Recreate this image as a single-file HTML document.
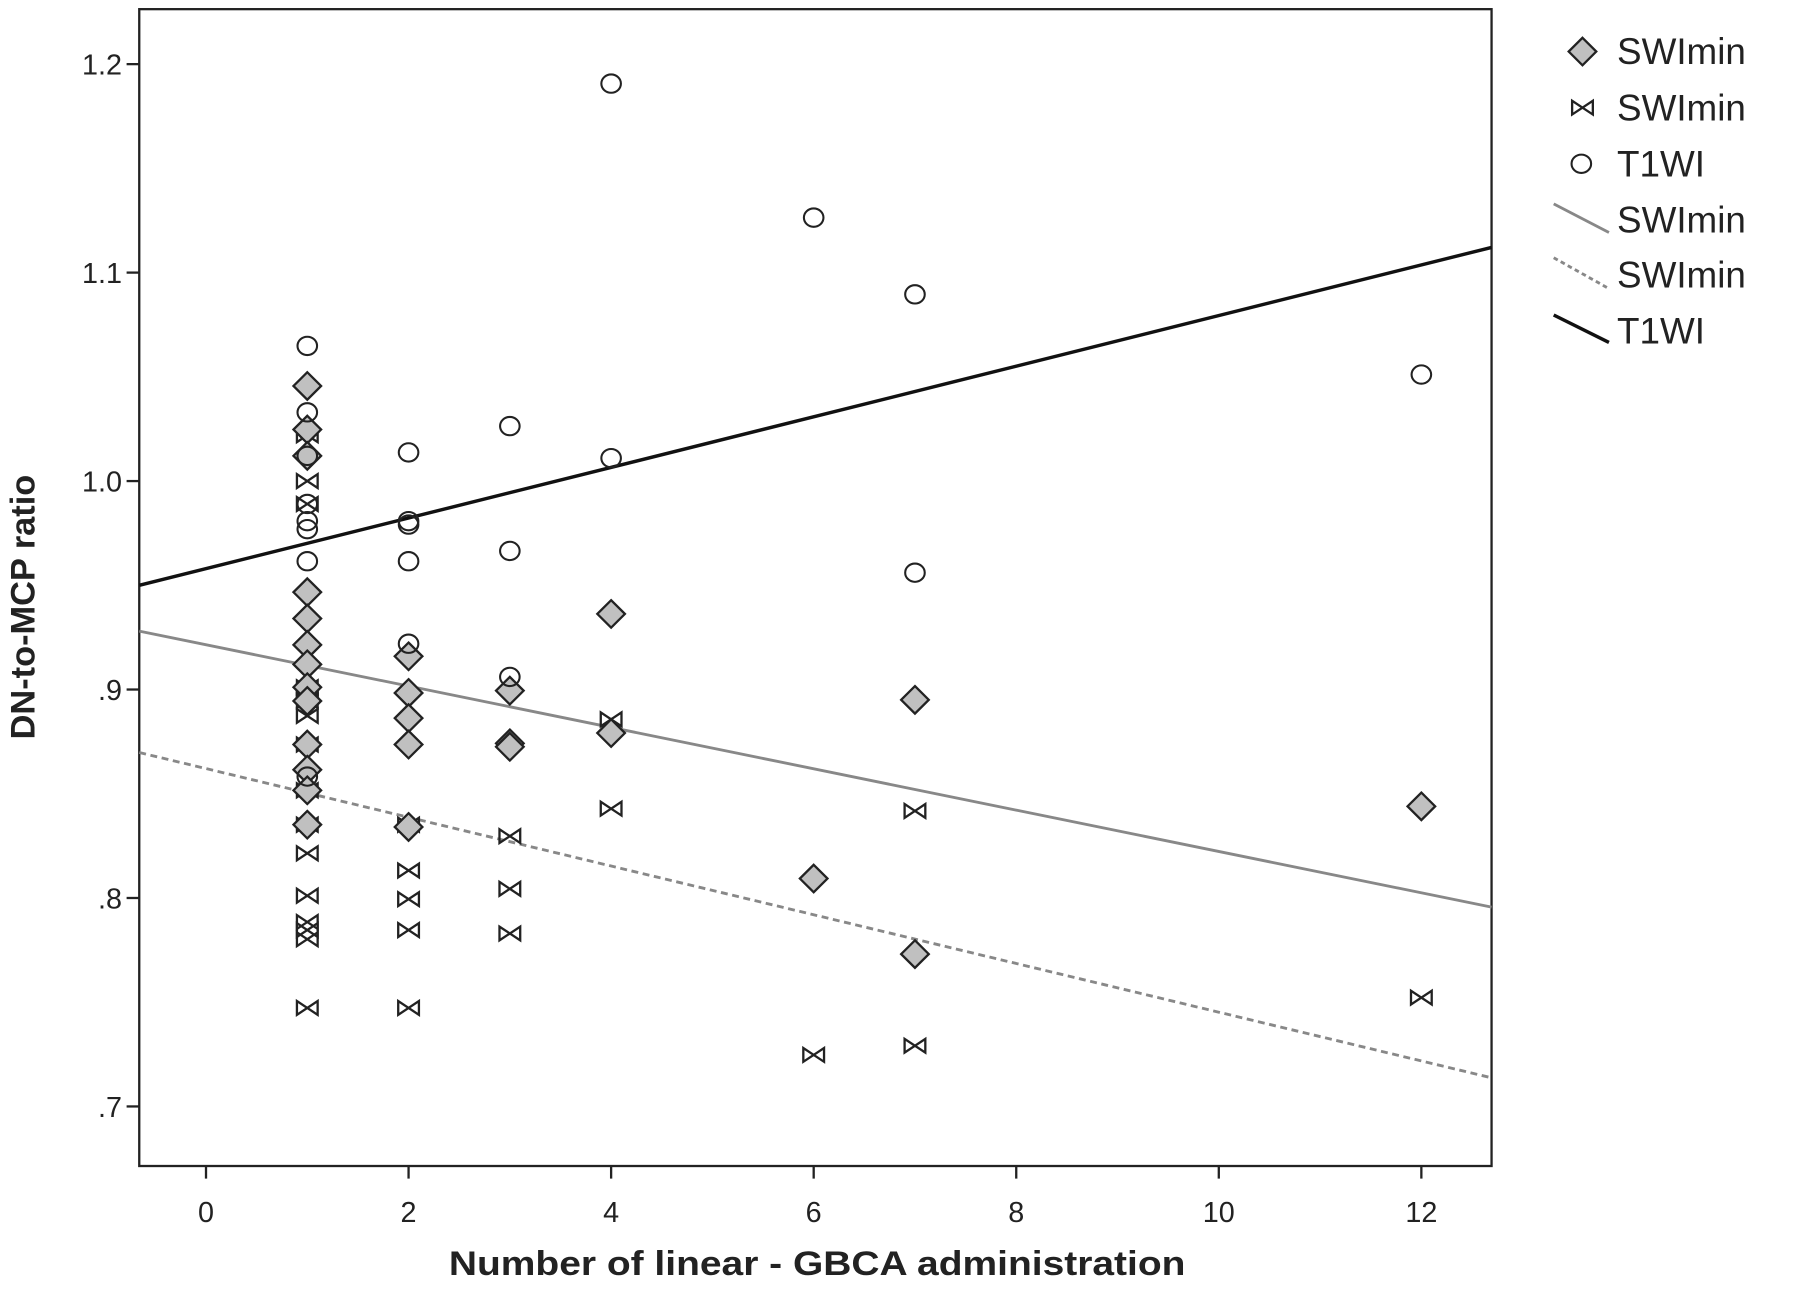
<!DOCTYPE html>
<html><head><meta charset="utf-8"><style>html,body{margin:0;padding:0;background:#fff}svg{display:block}</style></head>
<body>
<svg width="1800" height="1292" viewBox="0 0 1564 1128" preserveAspectRatio="none" xmlns="http://www.w3.org/2000/svg" font-family="Liberation Sans, sans-serif">
<defs>
<g id="d"><path d="M0,-12 L12,0 L0,12 L-12,0 Z" fill="#c0c0c0" stroke="#222" stroke-width="2"/></g>
<g id="b"><path d="M-9,-6 L-9,6 L9,-6 L9,6 Z" fill="none" stroke="#222" stroke-width="2"/></g>
<g id="c"><ellipse rx="8.5" ry="8" fill="none" stroke="#222" stroke-width="1.8"/></g>
</defs>
<rect x="121" y="8" width="1175" height="1010" fill="none" stroke="#222" stroke-width="2"/>
<g stroke="#222" stroke-width="2">
<line x1="110" y1="56" x2="121" y2="56"/><line x1="110" y1="238" x2="121" y2="238"/><line x1="110" y1="420" x2="121" y2="420"/><line x1="110" y1="602" x2="121" y2="602"/><line x1="110" y1="784" x2="121" y2="784"/><line x1="110" y1="966" x2="121" y2="966"/>
<line x1="179" y1="1018" x2="179" y2="1029"/><line x1="355" y1="1018" x2="355" y2="1029"/><line x1="531" y1="1018" x2="531" y2="1029"/><line x1="707" y1="1018" x2="707" y2="1029"/><line x1="883" y1="1018" x2="883" y2="1029"/><line x1="1059" y1="1018" x2="1059" y2="1029"/><line x1="1235" y1="1018" x2="1235" y2="1029"/>
</g>
<g font-size="25" fill="#222" text-anchor="end">
<text x="106" y="65">1.2</text><text x="106" y="247">1.1</text><text x="106" y="429">1.0</text><text x="106" y="611">.9</text><text x="106" y="793">.8</text><text x="106" y="975">.7</text>
</g>
<g font-size="25" fill="#222" text-anchor="middle">
<text x="179" y="1067">0</text><text x="355" y="1067">2</text><text x="531" y="1067">4</text><text x="707" y="1067">6</text><text x="883" y="1067">8</text><text x="1059" y="1067">10</text><text x="1235" y="1067">12</text>
</g>
<text x="710" y="1113" font-size="30" font-weight="bold" fill="#222" text-anchor="middle" textLength="640" lengthAdjust="spacingAndGlyphs">Number of linear - GBCA administration</text>
<text transform="translate(30,530) rotate(-90)" font-size="30" font-weight="bold" fill="#222" text-anchor="middle">DN-to-MCP ratio</text>

<line x1="121" y1="511" x2="1296" y2="216" stroke="#111" stroke-width="3"/>
<line x1="121" y1="551" x2="1296" y2="792" stroke="#888" stroke-width="2.5"/>
<line x1="121" y1="657" x2="1296" y2="941" stroke="#888" stroke-width="2.5" stroke-dasharray="6,4"/>

<g>
<use href="#b" x="267" y="380"/><use href="#b" x="267" y="420"/><use href="#b" x="267" y="440"/><use href="#b" x="267" y="600"/><use href="#b" x="267" y="606"/><use href="#b" x="267" y="612"/><use href="#b" x="267" y="625"/><use href="#b" x="267" y="650"/><use href="#b" x="267" y="690"/><use href="#b" x="267" y="720"/><use href="#b" x="267" y="745"/><use href="#b" x="267" y="782"/><use href="#b" x="267" y="805"/><use href="#b" x="267" y="812"/><use href="#b" x="267" y="820"/><use href="#b" x="267" y="880"/>
<use href="#b" x="355" y="720"/><use href="#b" x="355" y="760"/><use href="#b" x="355" y="785"/><use href="#b" x="355" y="812"/><use href="#b" x="355" y="880"/>
<use href="#b" x="443" y="730"/><use href="#b" x="443" y="776"/><use href="#b" x="443" y="815"/>
<use href="#b" x="531" y="628"/><use href="#b" x="531" y="706"/>
<use href="#b" x="707" y="921"/><use href="#b" x="795" y="708"/><use href="#b" x="795" y="913"/><use href="#b" x="1235" y="871"/>

<use href="#d" x="267" y="337"/><use href="#d" x="267" y="375"/><use href="#d" x="267" y="398"/><use href="#d" x="267" y="517"/><use href="#d" x="267" y="540"/><use href="#d" x="267" y="563"/><use href="#d" x="267" y="580"/><use href="#d" x="267" y="600"/><use href="#d" x="267" y="612"/><use href="#d" x="267" y="650"/><use href="#d" x="267" y="672"/><use href="#d" x="267" y="690"/><use href="#d" x="267" y="720"/>
<use href="#d" x="355" y="573"/><use href="#d" x="355" y="605"/><use href="#d" x="355" y="627"/><use href="#d" x="355" y="650"/><use href="#d" x="355" y="722"/>
<use href="#d" x="443" y="603"/><use href="#d" x="443" y="649"/><use href="#d" x="443" y="652"/>
<use href="#d" x="531" y="536"/><use href="#d" x="531" y="640"/>
<use href="#d" x="707" y="767"/><use href="#d" x="795" y="611"/><use href="#d" x="795" y="833"/><use href="#d" x="1235" y="704"/>

<use href="#c" x="267" y="302"/><use href="#c" x="267" y="360"/><use href="#c" x="267" y="398"/><use href="#c" x="267" y="440"/><use href="#c" x="267" y="455"/><use href="#c" x="267" y="462"/><use href="#c" x="267" y="490"/><use href="#c" x="267" y="678"/>
<use href="#c" x="355" y="395"/><use href="#c" x="355" y="455"/><use href="#c" x="355" y="458"/><use href="#c" x="355" y="490"/><use href="#c" x="355" y="562"/>
<use href="#c" x="443" y="372"/><use href="#c" x="443" y="481"/><use href="#c" x="443" y="591"/>
<use href="#c" x="531" y="73"/><use href="#c" x="531" y="400"/>
<use href="#c" x="707" y="190"/><use href="#c" x="795" y="257"/><use href="#c" x="795" y="500"/><use href="#c" x="1235" y="327"/>
</g>

<g font-size="32" fill="#222">
<use href="#d" x="1375" y="45"/><text x="1405" y="56">SWImin</text>
<use href="#b" x="1375" y="94"/><text x="1405" y="105">SWImin</text>
<use href="#c" x="1374" y="143"/><text x="1405" y="154">T1WI</text>
<line x1="1350" y1="178" x2="1398" y2="203" stroke="#888" stroke-width="2.5"/><text x="1405" y="203">SWImin</text>
<line x1="1350" y1="225" x2="1398" y2="252" stroke="#888" stroke-width="2.5" stroke-dasharray="4,3"/><text x="1405" y="251">SWImin</text>
<line x1="1350" y1="275" x2="1398" y2="299" stroke="#111" stroke-width="3"/><text x="1405" y="300">T1WI</text>
</g>
</svg>
</body></html>
